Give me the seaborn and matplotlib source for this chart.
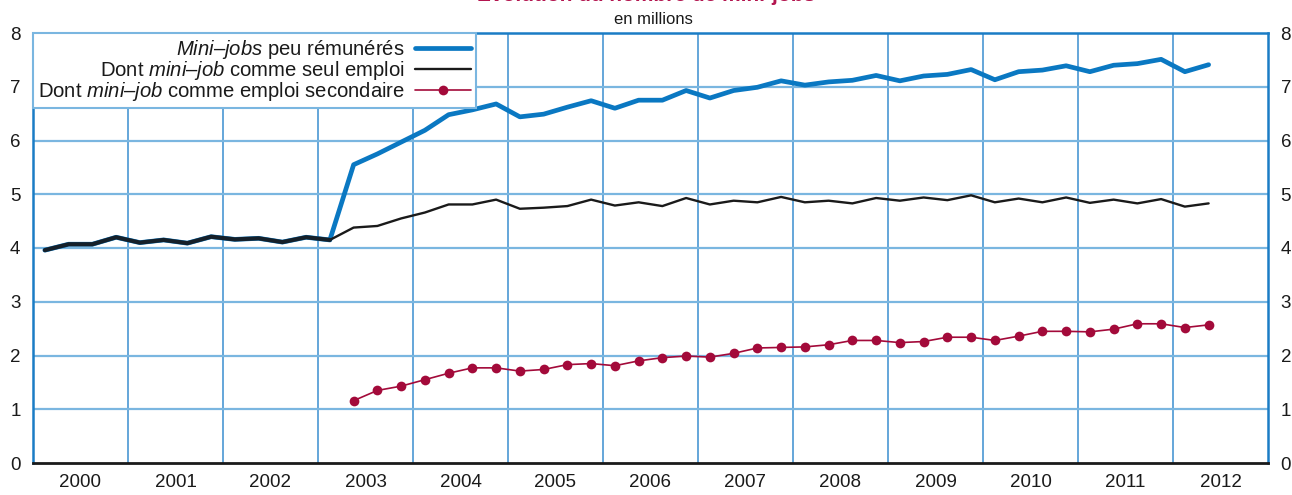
import numpy as np
import pandas as pd
import matplotlib
matplotlib.use("Agg")
import matplotlib.pyplot as plt
import seaborn as sns

# Quarterly series, 2000 T1 to 2012 T2 (millions)
first_year = 2000
years = list(range(2000, 2013))
year_labels = [str(y) for y in years]

total = [3.96, 4.07, 4.07, 4.20, 4.10, 4.15, 4.09, 4.21, 4.16, 4.18, 4.11, 4.20, 4.15,
         5.55, 5.75, 5.97, 6.19,
         6.48, 6.57, 6.68, 6.44, 6.49, 6.62, 6.74, 6.60, 6.75, 6.75, 6.93,
         6.79, 6.93, 6.99, 7.11, 7.03, 7.09, 7.12,
         7.21, 7.11, 7.20, 7.23, 7.32, 7.13, 7.28, 7.31, 7.39, 7.28, 7.40,
         7.43, 7.51, 7.28, 7.41]

seul = [3.96, 4.07, 4.07, 4.20, 4.10, 4.15, 4.09, 4.21, 4.16, 4.18, 4.11, 4.20, 4.15,
        4.38, 4.41, 4.55, 4.66,
        4.81, 4.81, 4.90, 4.73, 4.75, 4.78, 4.90, 4.79, 4.85, 4.78, 4.93,
        4.81, 4.88, 4.85, 4.95, 4.85, 4.88, 4.83,
        4.93, 4.88, 4.94, 4.89, 4.98, 4.85, 4.92, 4.85, 4.94, 4.84, 4.90,
        4.83, 4.91, 4.77, 4.83]

# secondary-job series starts in 2003 T2
secondaire_start = 13
secondaire = [1.16, 1.35, 1.43, 1.55, 1.67, 1.77, 1.77, 1.71, 1.74, 1.83, 1.85,
              1.81, 1.90, 1.96, 1.99, 1.97, 2.04, 2.14, 2.15, 2.16, 2.20, 2.28,
              2.28, 2.24, 2.26, 2.34, 2.34, 2.28, 2.36, 2.45, 2.45, 2.44, 2.49,
              2.59, 2.59, 2.52, 2.57]

labels = [r"$\mathit{Mini–jobs}$ peu rémunérés",
          r"Dont $\mathit{mini–job}$ comme seul emploi",
          r"Dont $\mathit{mini–job}$ comme emploi secondaire"]

title = "Évolution du nombre de mini-jobs"
subtitle = "en millions"

# quarter midpoints on a continuous time axis
t_all = first_year + (np.arange(len(total)) + 0.5) / 4
df_total = pd.DataFrame({"t": t_all, "v": total})
df_seul = pd.DataFrame({"t": t_all, "v": seul})
df_sec = pd.DataFrame({"t": t_all[secondaire_start:secondaire_start + len(secondaire)],
                       "v": secondaire})
# before 2003 T2 the total and the sole-job series coincide
df_shared = df_seul.iloc[:secondaire_start]

sns.set_style("white")
plt.rcParams["font.family"] = ["Liberation Sans", "DejaVu Sans"]
plt.rcParams["mathtext.fontset"] = "custom"
plt.rcParams["mathtext.rm"] = "Liberation Sans"
plt.rcParams["mathtext.it"] = "Liberation Sans:italic"

BLUE = "#0a78c2"
GRID_H = "#7ab6e0"
GRID_V = "#3a8ed0"
RED = "#a30a3a"
INK = "#1a1a1a"

fig = plt.figure(figsize=(12.92, 4.95), dpi=100)
ax = fig.add_axes([33 / 1292, 1 - 463 / 495, (1268 - 33) / 1292, (463 - 33) / 495])

sns.lineplot(data=df_total, x="t", y="v", ax=ax, color=BLUE, lw=3.4,
             label=labels[0], zorder=3)
sns.lineplot(data=df_seul, x="t", y="v", ax=ax, color=INK, lw=1.7,
             label=labels[1], zorder=4)
sns.lineplot(data=df_sec, x="t", y="v", ax=ax, color=RED, lw=1.2,
             marker="o", markersize=7, markeredgewidth=0, label=labels[2], zorder=4)
# shared stretch drawn as one heavy dark stroke
sns.lineplot(data=df_shared, x="t", y="v", ax=ax, color="#15202a", lw=3.0,
             legend=False, zorder=4.5)

ax.set_xlim(first_year, years[-1] + 1)
ax.set_ylim(0, 8)
ax.set_xlabel("")
ax.set_ylabel("")

# year boundaries carry the grid, year midpoints carry the labels
ax.set_xticks(years[1:])
ax.set_xticklabels([])
ax.set_xticks([y + 0.5 for y in years], minor=True)
ax.set_xticklabels(year_labels, minor=True)
ax.set_yticks(range(0, 9))
ax.tick_params(axis="x", which="both", length=0)
ax.tick_params(axis="x", which="minor", pad=8, labelsize=13.5, colors=INK)
ax.tick_params(axis="y", length=0, pad=9, labelsize=13.5, labelright=True,
               colors=INK)

ax.grid(False)
for yv in range(1, 8):
    ax.axhline(yv, color=GRID_H, lw=1.6, zorder=1)
ax.xaxis.grid(True, which="major", color=GRID_V, lw=1.1, zorder=1)
ax.set_axisbelow(True)

for side in ("left", "right", "top"):
    ax.spines[side].set_color("#1a7cc5")
    ax.spines[side].set_linewidth(1.8)
ax.spines["bottom"].set_color(INK)
ax.spines["bottom"].set_linewidth(2.0)

leg = ax.legend(loc="upper left", bbox_to_anchor=(0, 1), borderaxespad=0,
                markerfirst=False, fontsize=14.6, frameon=True, fancybox=False,
                handlelength=2.75, handletextpad=0.5, labelspacing=-0.1,
                borderpad=0.25)
leg.get_frame().set_edgecolor(GRID_H)
leg.get_frame().set_linewidth(1.5)
leg.get_frame().set_facecolor("white")
leg.get_frame().set_alpha(1)
for txt in leg.get_texts():
    txt.set_color(INK)

fig.text(0.5, 1 - 1 / 495, title, ha="center", va="baseline", fontsize=15,
         fontweight="bold", color="#b3154f")
fig.text(653 / 1292, 1 - 24 / 495, subtitle, ha="center", va="baseline",
         fontsize=12, color=INK)

fig.savefig("out.png", dpi=100)
